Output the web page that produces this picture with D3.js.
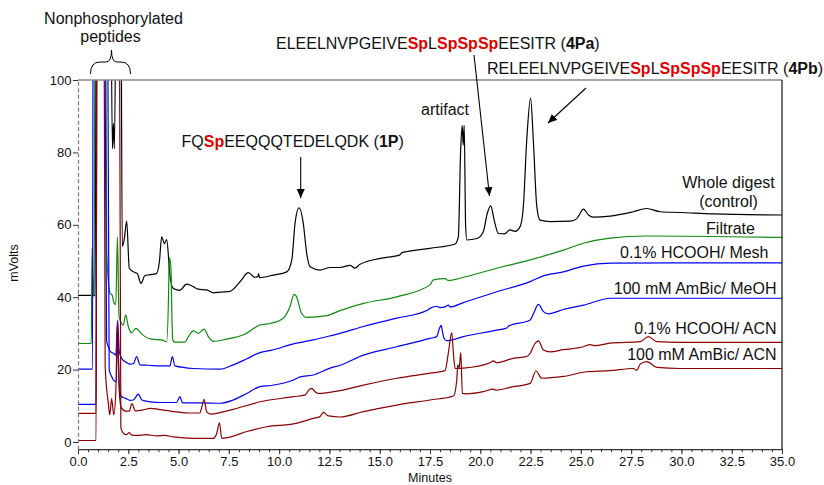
<!DOCTYPE html>
<html><head><meta charset="utf-8">
<script src="https://cdn.jsdelivr.net/npm/d3@7"></script>
<style>
body{margin:0;background:#fff;}
text{font-family:"Liberation Sans",Arial,sans-serif;fill:#111;}
</style></head><body>
<svg id="c" width="824" height="485"></svg>
<script>
// ---- data ----
const xTicks = [0,2.5,5,7.5,10,12.5,15,17.5,20,22.5,25,27.5,30,32.5,35];
const yTicks = [0,20,40,60,80,100];
const seriesNames = ["Whole digest (control)","Filtrate","0.1% HCOOH/ Mesh","100 mM AmBic/ MeOH","0.1% HCOOH/ ACN","100 mM AmBic/ ACN"];
const seriesColors = ["#000000","#108a10","#0000f0","#0000f0","#8b0000","#8b0000"];

// [minutes, mVolts]
const wholeDigest = [[0,40.5],[0.85,40.5],[0.92,150],[1.6,150],[1.71,81],[1.76,88],[1.81,81],[1.93,150],[2.12,150],[2.2,54],[2.3,56],[2.42,61],[2.55,48],[2.83,46.8],[2.95,46.5],[3.13,43.8],[3.33,46],[3.9,46.5],[4.05,50],[4.16,56.7],[4.3,54.8],[4.41,55.9],[4.57,46],[4.74,42.4],[5.07,41.9],[5.4,43.6],[5.6,43.3],[5.97,42.2],[6.4,42],[6.73,41.2],[7.07,41.4],[7.56,41.6],[8.06,44.3],[8.47,46.8],[8.78,45.5],[8.95,45.8],[8.98,46.5],[9.02,45.4],[9.71,46.1],[10.38,47.0],[10.63,50.3],[10.79,60.4],[10.99,64.7],[11.2,60.4],[11.37,52.1],[11.54,48.4],[12.03,47.5],[12.53,48.2],[13.03,48.2],[13.53,48.8],[13.77,48.0],[14.0,49],[15.02,50.7],[16.01,51.7],[16.1,52.3],[17.5,53.5],[18.75,54.7],[18.91,56.7],[19.02,80],[19.1,87.5],[19.15,82],[19.2,87.5],[19.27,60],[19.33,55.8],[19.83,56.2],[20.15,58.1],[20.35,63.2],[20.52,65.2],[20.69,61.3],[20.9,57.6],[21.2,57.5],[21.48,58.6],[21.73,58.2],[21.98,59.5],[22.14,65],[22.31,83.4],[22.5,95],[22.64,83],[22.81,65],[22.97,61.3],[23.47,60.9],[24.47,61.0],[24.8,61.7],[25.13,64.3],[25.38,62.7],[25.62,62.1],[26.45,62.4],[27.6,63.6],[28.28,64.5],[28.94,63.6],[29.93,63.4],[31.59,63.0],[35,62.7]];

const filtrate = [[0,27.2],[0.66,27.2],[0.7,53.6],[0.74,45],[0.8,40],[0.86,150],[1.35,150],[1.43,53],[1.5,45],[1.59,41.1],[1.7,40.5],[1.8,38.3],[1.88,38],[1.96,56.7],[2.04,34.6],[2.25,32.3],[2.37,35.1],[2.5,31.9],[2.67,30.2],[2.88,31.4],[3.17,29.8],[3.66,28.4],[4.16,28.2],[4.41,27.7],[4.5,40],[4.54,51],[4.62,48],[4.68,32],[4.71,28.2],[4.82,27.6],[5.32,27.6],[5.49,29.1],[5.73,30.7],[5.98,30.0],[6.27,31.2],[6.48,29.1],[6.73,27.8],[7.39,28.4],[8.22,29.6],[9.05,32.3],[9.6,32.8],[10.21,34.2],[10.54,37.4],[10.74,40.8],[10.85,40.3],[11.12,35.5],[11.37,34.4],[12.37,34.9],[13.03,36.3],[14.19,38.3],[15.85,40.1],[17.5,43.4],[17.67,44.8],[18.25,45.1],[18.41,44.6],[19.16,45.5],[20.82,48.0],[22.48,50.3],[24.13,53.0],[25.13,54.9],[26.45,56.3],[28.28,56.9],[35,56.5]];

const hcoohMesh = [[0,20.1],[0.72,20.1],[0.76,150],[1.3,150],[1.42,28],[1.51,26.3],[1.6,25],[1.76,24.5],[1.88,24],[1.97,33.7],[2.05,25],[2.17,23.1],[2.4,22],[2.59,21.5],[2.75,21.6],[2.92,23.6],[3.08,21.3],[3.5,21.2],[4.08,21.0],[4.57,21.0],[4.69,23.6],[4.82,21.0],[5.73,20.3],[7.06,20.1],[7.72,21.3],[8.4,23],[9.05,24.7],[9.6,25.3],[10.71,27.1],[11.7,28.2],[12.53,29.3],[13.03,30],[14.19,31.9],[15.85,34.2],[17.34,36.3],[17.5,36.9],[17.83,37.5],[18.0,37.1],[18.25,37.3],[18.41,37.8],[18.5,37.3],[19.16,38.5],[20.82,41.5],[22.48,44.3],[23.14,45.9],[24.13,47.0],[25.13,48.6],[26.5,49.4],[35,49.5]];

const ambicMeoh = [[0,10.4],[0.9,10.4],[0.94,150],[1.45,150],[1.55,20],[1.68,18],[1.76,17.1],[1.9,16.7],[1.97,30],[2.05,16],[2.17,12.5],[2.34,12.1],[2.6,11.5],[2.75,11.6],[3.0,13.2],[3.17,11.6],[3.6,11.1],[4.08,10.9],[4.9,10.9],[5.07,12.5],[5.2,10.8],[6.07,10.8],[7.06,10.7],[7.72,11.6],[8.39,13.4],[9.05,15.3],[9.6,15.6],[10.71,17.1],[11.04,18.0],[11.7,18.5],[12.53,20.4],[13.03,21.2],[14.19,24.0],[15.85,26.3],[17.5,28.6],[17.83,29.1],[17.97,31.4],[18.05,32.2],[18.12,30.5],[18.2,28.6],[18.33,28.0],[19.16,29.1],[20.82,30.9],[21.32,31.5],[21.4,32],[22.48,33.7],[22.64,35.4],[22.89,38.0],[23.14,36.0],[23.38,35.4],[24.13,36.6],[25.13,37.8],[26.5,39.7],[35,39.7]];

const hcoohAcn = [[0,7.9],[0.9,7.9],[0.95,150],[1.28,150],[1.35,21],[1.5,11],[1.58,7.5],[1.67,12],[1.78,7.5],[1.88,14],[1.96,33],[2.05,14],[2.15,9.5],[2.4,8.5],[2.55,8.5],[2.68,10.6],[2.85,8.6],[3.2,8.8],[3.6,9.3],[4.0,9.0],[4.6,8.5],[5.5,8.0],[6.05,8.0],[6.15,9.5],[6.27,11.8],[6.4,8.3],[6.6,7.7],[7.06,8.1],[7.72,9.0],[9.05,11.1],[10.71,12.5],[11.3,13],[11.45,14.2],[11.62,14.8],[11.8,13.8],[11.95,13.4],[13.03,14.2],[14.19,15.7],[15.85,17.6],[17.5,19.0],[18.25,19.7],[18.41,24.5],[18.58,30.2],[18.67,24],[18.75,20.3],[19.16,20.4],[20.49,21.9],[20.65,22.4],[20.8,21.9],[21.65,23.1],[22.31,23.6],[22.48,24.5],[22.7,27],[22.89,27.9],[23.14,25.4],[23.47,24.9],[24.13,25.5],[25.13,26.3],[25.46,26.9],[25.7,26.6],[26.45,27.3],[27.95,27.7],[28.36,29.1],[28.78,27.7],[29.93,27.5],[35,27.5]];

const ambicAcn = [[0,0.4],[0.9,0.4],[0.94,150],[2.04,150],[2.13,4],[2.25,2.4],[2.4,2.0],[2.55,2.6],[2.67,1.9],[2.9,1.8],[3.41,2.0],[3.91,1.7],[4.3,1.8],[4.74,1.4],[5.73,1.0],[6.73,1.0],[6.9,2.4],[7.03,5.3],[7.15,1.0],[7.45,1.2],[8.39,2.9],[9.38,4.2],[10.71,5.0],[11.7,6.5],[12.03,7.0],[12.2,8.2],[12.45,7.2],[13.03,6.9],[14.19,8.4],[15.85,10.2],[17.5,11.6],[18.67,12.7],[18.83,17.1],[18.88,21.3],[18.95,20.5],[19.03,24.7],[19.11,13.4],[19.3,13.3],[20.15,13.9],[20.65,14.6],[20.8,14.3],[21.48,15.1],[22.48,16.2],[22.77,19.6],[23.05,17.6],[24.13,18.1],[25.3,19.4],[26.45,19.7],[27.6,20.3],[27.78,19.8],[27.95,21.5],[28.28,22.2],[28.78,20.6],[29.93,20.3],[35,20.3]];

const allSeries = [wholeDigest, filtrate, hcoohMesh, ambicMeoh, hcoohAcn, ambicAcn];

// ---- scales ----
const svg = d3.select("#c");
const x = d3.scaleLinear().domain([0,35]).range([78,782]);
const y = d3.scaleLinear().domain([-2,100]).range([449.2,80]);

svg.append("defs").append("clipPath").attr("id","plotclip")
  .append("rect").attr("x",x(0)).attr("y",y(100)).attr("width",x(35)-x(0)).attr("height",y(-2)-y(100));
const mk = svg.select("defs").append("marker").attr("id","arr").attr("viewBox","0 0 10 10")
  .attr("refX",10).attr("refY",5).attr("markerWidth",9).attr("markerHeight",9)
  .attr("markerUnits","userSpaceOnUse").attr("orient","auto");
mk.append("path").attr("d","M0,0.5 L10,5 L0,9.5 Z").attr("fill","#000");

// ---- traces ----
const line = d3.line().x(d=>x(d[0])).y(d=>y(d[1])).curve(d3.curveMonotoneX);
const g = svg.append("g").attr("clip-path","url(#plotclip)");
allSeries.forEach((s,i)=>{
  g.append("path").attr("d",line(s)).attr("fill","none")
   .attr("stroke",seriesColors[i]).attr("stroke-width",1.2).attr("stroke-linejoin","round");
});

// ---- axes ----
const xa = svg.append("g").attr("transform",`translate(0,${y(-2)})`)
  .call(d3.axisBottom(x).tickValues(xTicks).tickFormat(d3.format(".1f")).tickSize(5).tickSizeOuter(0));
xa.select(".domain").attr("stroke","#333").attr("stroke-width",1.2);
xa.selectAll(".tick line").attr("stroke","#333");
xa.selectAll(".tick text").attr("font-size",13).attr("font-family","Liberation Sans, Arial, sans-serif").attr("fill","#111").attr("dy","0.9em").attr("y",5);
const xm = svg.append("g").attr("transform",`translate(0,${y(-2)})`)
  .call(d3.axisBottom(x).tickValues(d3.range(0,35.01,0.5)).tickFormat("").tickSize(3).tickSizeOuter(0));
xm.select(".domain").remove();
xm.selectAll(".tick line").attr("stroke","#333");

const ya = svg.append("g").attr("transform",`translate(${x(0)},0)`)
  .call(d3.axisLeft(y).tickValues(yTicks).tickSize(5).tickSizeOuter(0));
ya.select(".domain").attr("stroke","#777").attr("stroke-dasharray","4,2.5").attr("stroke-width",1.2);
ya.selectAll(".tick line").attr("stroke","#333");
ya.selectAll(".tick text").attr("font-size",13).attr("font-family","Liberation Sans, Arial, sans-serif").attr("fill","#111").attr("x",-6.5);

// frame top & right
svg.append("line").attr("x1",x(0)).attr("x2",x(35)).attr("y1",y(100)).attr("y2",y(100)).attr("stroke","#888").attr("stroke-width",1.5);
svg.append("line").attr("x1",x(35)).attr("x2",x(35)).attr("y1",y(100)).attr("y2",y(-2)).attr("stroke","#111").attr("stroke-width",1.2);

svg.append("text").attr("x",430).attr("y",482).attr("text-anchor","middle").attr("font-size",12.5).text("Minutes");
svg.append("text").attr("transform","translate(18,263) rotate(-90)").attr("text-anchor","middle").attr("font-size",12.5).text("mVolts");

// ---- series labels ----
const labelPos = [
  {lines:["Whole digest","(control)"], x:728.5, y:[187.5,207], anchor:"middle"},
  {lines:["Filtrate"], x:730.5, y:[234], anchor:"middle"},
  {lines:["0.1% HCOOH/ Mesh"], x:768.5, y:[257.5], anchor:"end"},
  {lines:["100 mM AmBic/ MeOH"], x:776.5, y:[293.5], anchor:"end"},
  {lines:["0.1% HCOOH/ ACN"], x:776.5, y:[334], anchor:"end"},
  {lines:["100 mM AmBic/ ACN"], x:776.5, y:[360], anchor:"end"}
];
labelPos.forEach(l=>{
  l.lines.forEach((t,j)=>svg.append("text").attr("x",l.x).attr("y",l.y[j]).attr("text-anchor",l.anchor).attr("font-size",16).text(t));
});

// ---- annotations ----
function rich(xp, yp, segs){
  const t = svg.append("text").attr("x",xp).attr("y",yp).attr("font-size",16);
  segs.forEach(s=>{
    const ts = t.append("tspan").text(s[0]);
    if(s[1]==="r") ts.attr("fill","#e00000").attr("font-weight","bold");
    if(s[1]==="b") ts.attr("font-weight","bold");
  });
}
rich(276, 49, [["ELEELNVPGEIVE"],["Sp","r"],["L"],["SpSpSp","r"],["EESITR ("],["4Pa","b"],[")"]]);
rich(487, 74, [["RELEELNVPGEIVE"],["Sp","r"],["L"],["SpSpSp","r"],["EESITR ("],["4Pb","b"],[")"]]);
rich(181.5, 146.5, [["FQ"],["Sp","r"],["EEQQQTEDELQDK ("],["1P","b"],[")"]]);
svg.append("text").attr("x",445).attr("y",115).attr("text-anchor","middle").attr("font-size",16).text("artifact");
svg.append("text").attr("x",113.5).attr("y",23.5).attr("text-anchor","middle").attr("font-size",16).text("Nonphosphorylated");
svg.append("text").attr("x",110.5).attr("y",42).attr("text-anchor","middle").attr("font-size",16).text("peptides");

// brace
svg.append("path").attr("d","M90.5,74 Q90.5,62 100,62 L106,62 Q111.5,62 111.5,50 Q111.5,62 117,62 L121,62 Q130.5,62 130.5,74")
  .attr("fill","none").attr("stroke","#000").attr("stroke-width",1);

// arrows
const arrows = [[300.7,157,300.7,198],[474,55,489.5,196],[586,88,548,123]];
arrows.forEach(a=>svg.append("line").attr("x1",a[0]).attr("y1",a[1]).attr("x2",a[2]).attr("y2",a[3])
  .attr("stroke","#000").attr("stroke-width",1.1).attr("marker-end","url(#arr)"));
</script>
</body></html>
